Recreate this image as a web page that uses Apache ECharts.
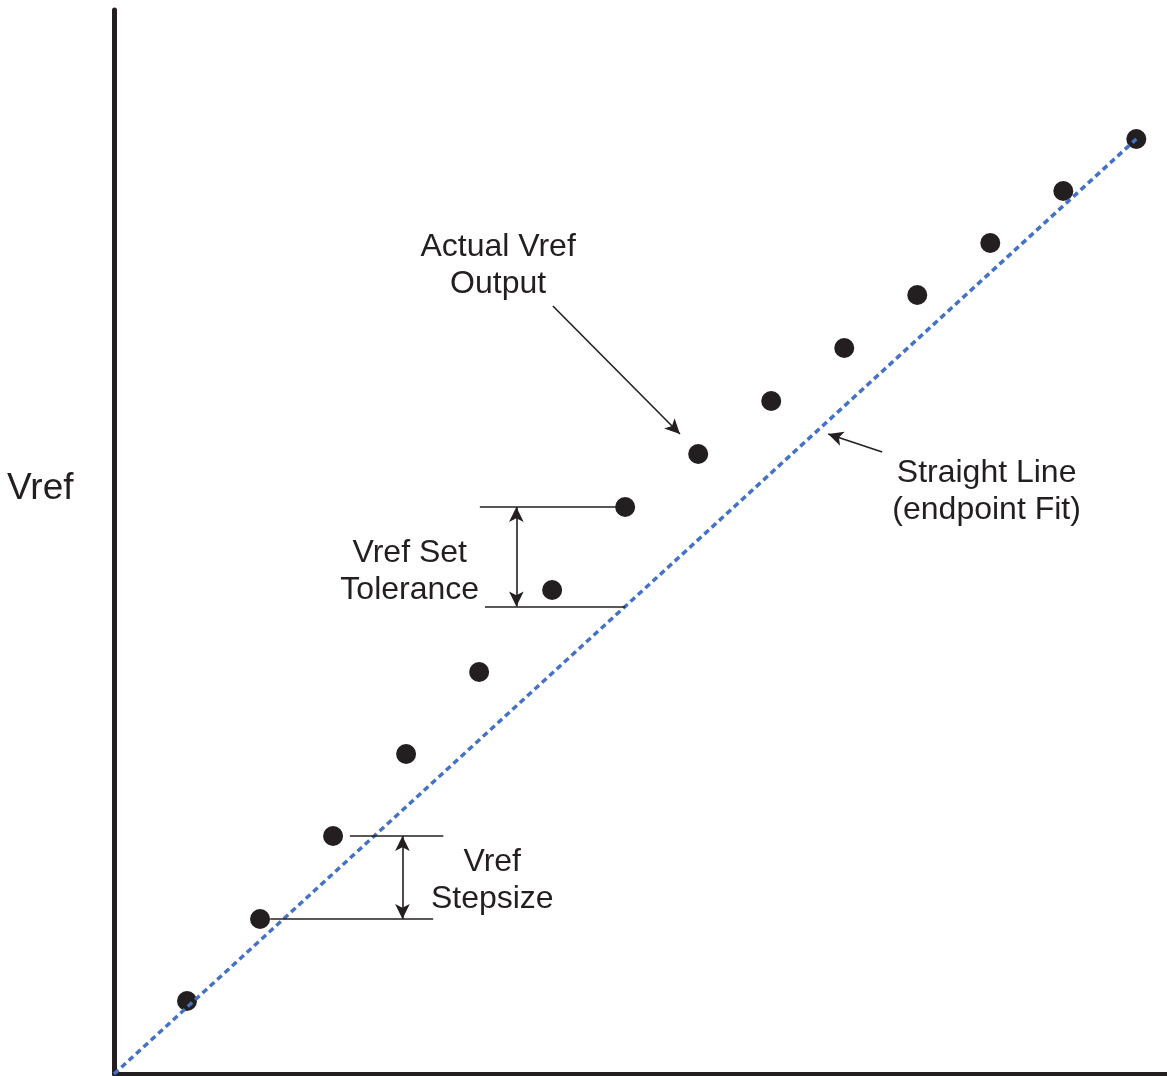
<!DOCTYPE html>
<html>
<head>
<meta charset="utf-8">
<script src="https://cdn.jsdelivr.net/npm/echarts@6/dist/echarts.min.js"></script>
<style>
  html, body { margin: 0; padding: 0; background: #fff; }
  #chart { width: 1167px; height: 1076px; }
</style>
</head>
<body>
<div id="chart"></div>
<script>
// input codes (x) and measured output (y, arbitrary units)
const codes = [1, 2, 3, 4, 5, 6, 7, 8, 9, 10, 11, 12, 13, 14];
const vrefOutput = [73, 155, 238, 320, 402, 484, 567, 620, 673, 726, 779, 831, 883, 935];
// endpoint fit: from origin to the last point
const fitLine = [[0, 0], [14, 935]];

const ink = '#231f20';
const font = 'Liberation Sans, Arial, sans-serif';

const points = codes.map((c, i) => [c, vrefOutput[i]]);
const fitAt = (x) => fitLine[1][1] * x / fitLine[1][0];

const textLabel = (name, coord) => ({ name: name, coord: coord });
const seg = (a, b, s0, s1) => [
  { coord: a, symbol: s0 || 'none' },
  { coord: b, symbol: s1 || 'none' }
];

const chart = echarts.init(document.getElementById('chart'));
chart.setOption({
  animation: false,
  grid: { left: 114, right: 0, top: 10, bottom: 2 },
  graphic: [{
    type: 'text',
    x: 7,
    y: 489,
    silent: true,
    style: { text: 'Vref', fill: ink, fontSize: 37, fontFamily: font, align: 'left', verticalAlign: 'middle' }
  }],
  xAxis: {
    type: 'value',
    min: 0,
    max: 14.42,
    axisLine: { show: true, lineStyle: { color: ink, width: 4 } },
    axisTick: { show: false },
    axisLabel: { show: false },
    splitLine: { show: false }
  },
  yAxis: {
    type: 'value',
    min: 0,
    max: 1064,
    axisLine: { show: true, lineStyle: { color: ink, width: 5 } },
    axisTick: { show: false },
    axisLabel: { show: false },
    splitLine: { show: false }
  },
  series: [
    {
      name: 'Actual Vref Output',
      type: 'scatter',
      data: points,
      symbolSize: 20,
      itemStyle: { color: ink, opacity: 1 },
      silent: true,
      z: 2,
      markLine: {
        silent: true,
        symbol: ['none', 'none'],
        symbolSize: [11, 15],
        label: { show: false },
        lineStyle: { color: ink, width: 1.6, type: 'solid' },
        data: [
          // step size
          seg([3.23, vrefOutput[2]], [4.51, vrefOutput[2]]),
          seg([2.14, vrefOutput[1]], [4.37, vrefOutput[1]]),
          seg([3.95, vrefOutput[2]], [3.95, vrefOutput[1]], 'arrow', 'arrow'),
          // set tolerance
          seg([5.01, vrefOutput[6]], [7, vrefOutput[6]]),
          seg([5.08, fitAt(7)], [7, fitAt(7)]),
          seg([5.51, vrefOutput[6]], [5.51, fitAt(7)], 'arrow', 'arrow'),
          // pointers
          seg([6.01, 768], [7.75, 640], 'none', 'arrow'),
          seg([10.52, 622], [9.78, 640], 'none', 'arrow')
        ]
      },
      markPoint: {
        silent: true,
        symbol: 'circle',
        symbolSize: 0,
        itemStyle: { color: 'transparent' },
        label: {
          show: true,
          position: 'inside',
          formatter: (p) => p.name,
          color: ink,
          fontSize: 32,
          lineHeight: 37,
          fontFamily: font,
          align: 'center'
        },
        data: [
          textLabel('Actual Vref\nOutput', [5.26, 808]),
          textLabel('Straight Line\n(endpoint Fit)', [11.95, 582]),
          textLabel('Vref Set\nTolerance', [4.05, 502]),
          textLabel('Vref\nStepsize', [5.18, 193])
        ]
      }
    },
    {
      name: 'Straight Line (endpoint Fit)',
      type: 'line',
      data: fitLine,
      showSymbol: false,
      symbol: 'none',
      silent: true,
      z: 3,
      lineStyle: { color: '#4472c4', width: 3.5, type: [6, 4] }
    }
  ]
});
</script>
</body>
</html>
